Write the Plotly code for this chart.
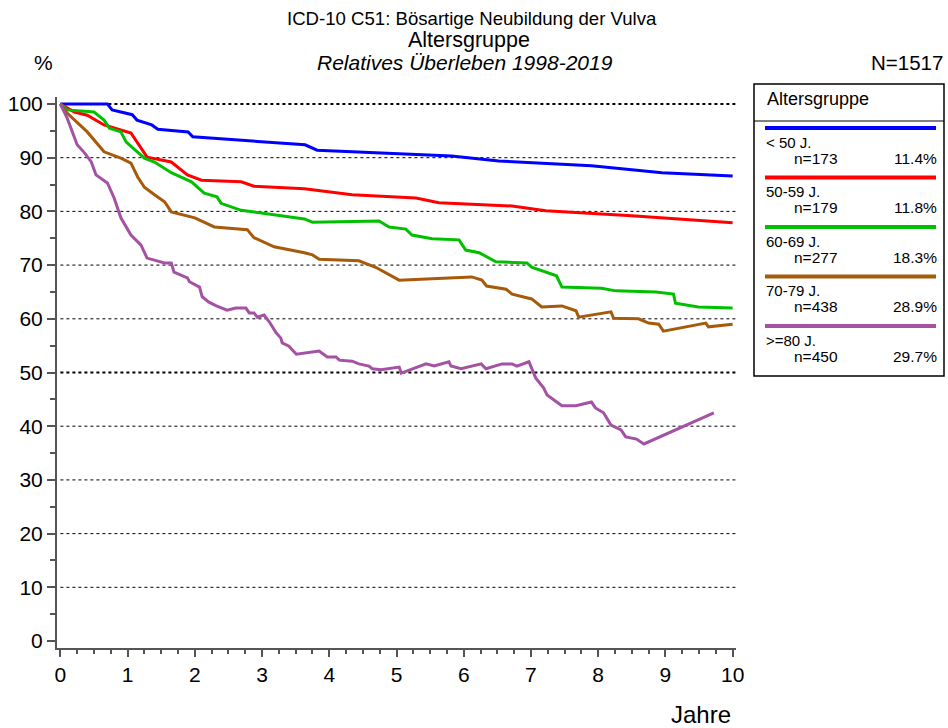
"""
Relative survival by age group, vulva cancer (ICD-10 C51).
"""
import plotly.graph_objects as go

# --- data -------------------------------------------------------------------
groups = ["< 50 J.", "50-59 J.", "60-69 J.", "70-79 J.", ">=80 J."]
group_n = ["n=173", "n=179", "n=277", "n=438", "n=450"]
group_pct = ["11.4%", "11.8%", "18.3%", "28.9%", "29.7%"]
colors = ["#0000FF", "#FF0000", "#00C000", "#A65A0A", "#A452A4"]

years_lt50 = [0, 0.70, 0.77, 1.07, 1.14, 1.36, 1.45, 1.90, 1.97, 3.64, 3.82,
              5.82, 6.52, 7.90, 8.95, 10.0]
surv_lt50 = [100, 100, 98.9, 98.0, 97.0, 96.1, 95.3, 94.8, 93.9, 92.4, 91.4,
             90.3, 89.4, 88.5, 87.2, 86.6]

years_50_59 = [0, 0.21, 0.40, 0.65, 1.05, 1.29, 1.65, 1.89, 2.10, 2.69, 2.88,
               3.63, 4.34, 5.29, 5.63, 6.72, 7.22, 8.50, 10.0]
surv_50_59 = [100, 98.5, 97.9, 96.1, 94.6, 90.1, 89.2, 86.8, 85.8, 85.5, 84.7,
              84.2, 83.1, 82.5, 81.6, 81.0, 80.1, 79.2, 77.9]

years_60_69 = [0, 0.10, 0.50, 0.65, 0.73, 0.90, 0.98, 1.15, 1.25, 1.40, 1.65,
               1.95, 2.14, 2.33, 2.39, 2.69, 2.99, 3.63, 3.75, 4.74, 4.89,
               5.14, 5.23, 5.53, 5.93, 6.03, 6.23, 6.48, 6.94, 7.01, 7.38,
               7.46, 8.05, 8.26, 8.86, 9.12, 9.15, 9.49, 10.0]
surv_60_69 = [100, 98.9, 98.5, 97.0, 95.5, 94.8, 92.9, 91.1, 89.9, 89.2, 87.2,
              85.5, 83.4, 82.7, 81.5, 80.2, 79.7, 78.6, 78.0, 78.2, 77.1,
              76.7, 75.6, 74.9, 74.7, 72.8, 72.3, 70.6, 70.4, 69.6, 68.0,
              65.9, 65.7, 65.2, 65.0, 64.6, 62.9, 62.2, 62.0]

years_70_79 = [0, 0.10, 0.40, 0.65, 0.90, 1.05, 1.15, 1.25, 1.40, 1.55, 1.65,
               2.00, 2.29, 2.78, 2.88, 3.18, 3.63, 3.75, 3.85, 4.44, 4.69,
               4.89, 5.04, 5.78, 6.12, 6.27, 6.34, 6.63, 6.72, 7.01, 7.16,
               7.46, 7.67, 7.71, 8.19, 8.23, 8.60, 8.75, 8.90, 8.97, 9.60,
               9.64, 10.0]
surv_70_79 = [100, 98.3, 94.8, 91.1, 89.9, 89.0, 86.4, 84.5, 83.1, 81.8, 79.9,
              78.8, 77.1, 76.6, 75.1, 73.4, 72.3, 71.9, 71.1, 70.8, 69.6,
              68.2, 67.2, 67.6, 67.8, 67.2, 66.1, 65.5, 64.6, 63.7, 62.2,
              62.4, 61.5, 60.3, 61.3, 60.1, 60.0, 59.2, 59.0, 57.7, 59.2,
              58.5, 59.0]

years_ge80 = [0, 0.10, 0.25, 0.36, 0.46, 0.53, 0.70, 0.80, 0.90, 1.05, 1.20,
              1.29, 1.55, 1.65, 1.69, 1.89, 1.92, 2.07, 2.11, 2.21, 2.32, 2.48,
              2.61, 2.76, 2.81, 2.88, 2.93, 3.03, 3.11, 3.21, 3.28, 3.30, 3.40,
              3.51, 3.85, 3.97, 4.10, 4.15, 4.34, 4.44, 4.59, 4.64, 4.77, 5.04,
              5.07, 5.44, 5.56, 5.78, 5.81, 5.96, 6.26, 6.33, 6.57, 6.72, 6.79,
              6.97, 7.07, 7.12, 7.19, 7.24, 7.46, 7.67, 7.90, 7.96, 8.08, 8.19,
              8.34, 8.41, 8.57, 8.68, 9.72]
surv_ge80 = [100, 97.4, 92.4, 90.9, 89.2, 86.8, 85.3, 82.5, 78.8, 75.6, 73.7,
             71.3, 70.4, 70.4, 68.7, 67.6, 66.9, 65.9, 64.1, 63.1, 62.4, 61.6,
             62.0, 62.0, 61.1, 61.1, 60.3, 60.7, 59.4, 57.4, 56.4, 55.5, 54.9,
             53.4, 54.0, 52.9, 52.9, 52.3, 52.1, 51.6, 51.2, 50.7, 50.5, 51.0,
             49.9, 51.6, 51.2, 52.0, 51.2, 50.7, 51.6, 50.7, 51.6, 51.6, 51.2,
             52.0, 49.0, 48.2, 47.1, 45.8, 43.8, 43.8, 44.5, 43.4, 42.5, 40.2,
             39.3, 38.0, 37.6, 36.7, 42.5]

x_ticks = list(range(0, 11))
y_ticks = list(range(0, 101, 10))
grid_y = list(range(10, 101, 10))
bold_grid_y = [50, 100]

series_x = [years_lt50, years_50_59, years_60_69, years_70_79, years_ge80]
series_y = [surv_lt50, surv_50_59, surv_60_69, surv_70_79, surv_ge80]

# --- layout geometry (screen pixels) ------------------------------------------
FIG_W, FIG_H = 948, 728
M_L, M_R, M_T, M_B = 57, 212, 97, 80
PLOT_W = FIG_W - M_L - M_R
PLOT_H = FIG_H - M_T - M_B
FONT = "Liberation Sans, Arial, sans-serif"
AXIS_COLOR = "#555555"


def px_x(px):
    return (px - M_L) / PLOT_W


def px_y(py):
    return (FIG_H - M_B - py) / PLOT_H


fig = go.Figure()

for xs, ys, name, col in zip(series_x, series_y, groups, colors):
    fig.add_trace(go.Scatter(x=xs, y=ys, mode="lines", name=name,
                             line=dict(color=col, width=3), showlegend=False))

# dotted reference lines
for g in grid_y:
    w = 2 if g in bold_grid_y else 1
    fig.add_shape(type="line", xref="x domain", yref="y", x0=0.005, x1=1,
                  y0=g, y1=g, line=dict(color="black", width=w, dash="dot"),
                  layer="below")

# titles / labels
annots = [
    ("ICD-10 C51: Bösartige Neubildung der Vulva", 472, 18, 18.6, "center"),
    ("Altersgruppe", 469, 40, 21.5, "center"),
    ("<i>Relatives Überleben 1998-2019</i>", 465, 62, 21, "center"),
    ("%", 43, 63, 21, "center"),
    ("N=1517", 945, 63, 20.5, "right"),
    ("Jahre", 733, 714, 24, "right"),
]
for text, x, y, size, anchor in annots:
    fig.add_annotation(text=text, x=px_x(x), y=px_y(y), xref="paper",
                       yref="paper", xanchor=anchor, yanchor="middle",
                       showarrow=False, font=dict(size=size, color="black",
                                                  family=FONT))

# custom legend box
BOX_L, BOX_R, BOX_T, BOX_B = 754, 944, 84, 376
fig.add_shape(type="rect", xref="paper", yref="paper", x0=px_x(BOX_L),
              x1=px_x(BOX_R), y0=px_y(BOX_B), y1=px_y(BOX_T),
              line=dict(color="black", width=1.5), fillcolor="white")
fig.add_shape(type="line", xref="paper", yref="paper", x0=px_x(BOX_L),
              x1=px_x(BOX_R), y0=px_y(121), y1=px_y(121),
              line=dict(color="black", width=1))
fig.add_annotation(text="Altersgruppe", x=px_x(765), y=px_y(99),
                   xref="paper", yref="paper", xanchor="left",
                   yanchor="middle", showarrow=False,
                   font=dict(size=18, color="black", family=FONT))
for i, (name, n, pct, col) in enumerate(zip(groups, group_n, group_pct, colors)):
    y0 = 128 + 49.5 * i
    fig.add_shape(type="line", xref="paper", yref="paper", x0=px_x(765),
                  x1=px_x(936), y0=px_y(y0), y1=px_y(y0),
                  line=dict(color=col, width=4))
    fig.add_annotation(text=name, x=px_x(765), y=px_y(y0 + 14), xref="paper",
                       yref="paper", xanchor="left", yanchor="middle",
                       showarrow=False, borderpad=0,
                       font=dict(size=15, color="black", family=FONT))
    fig.add_annotation(text=n, x=px_x(793), y=px_y(y0 + 30), xref="paper",
                       yref="paper", xanchor="left", yanchor="middle",
                       showarrow=False, borderpad=0,
                       font=dict(size=15.5, color="black", family=FONT))
    fig.add_annotation(text=pct, x=px_x(938), y=px_y(y0 + 30), xref="paper",
                       yref="paper", xanchor="right", yanchor="middle",
                       showarrow=False, borderpad=0,
                       font=dict(size=15.5, color="black", family=FONT))

fig.update_xaxes(
    range=[-0.05, 10.05], tickvals=x_ticks, showgrid=False, zeroline=False,
    automargin=False,
    showline=True, linecolor=AXIS_COLOR, linewidth=2,
    ticks="outside", ticklen=7, tickwidth=2, tickcolor=AXIS_COLOR,
    minor=dict(dtick=0.25, ticks="outside", ticklen=4, tickwidth=1.5,
               tickcolor=AXIS_COLOR, showgrid=False),
    tickfont=dict(size=21, color="black", family=FONT),
)
fig.update_yaxes(
    range=[-1.3, 101.3], tickvals=y_ticks, showgrid=False, zeroline=False,
    automargin=False,
    showline=True, linecolor=AXIS_COLOR, linewidth=2,
    ticks="outside", ticklen=8, tickwidth=2, tickcolor=AXIS_COLOR,
    minor=dict(dtick=5, ticks="outside", ticklen=5, tickwidth=1.5,
               tickcolor=AXIS_COLOR, showgrid=False),
    tickfont=dict(size=21, color="black", family=FONT),
)
fig.update_layout(
    width=FIG_W, height=FIG_H,
    margin=dict(l=M_L, r=M_R, t=M_T, b=M_B),
    plot_bgcolor="white", paper_bgcolor="white",
    font=dict(family=FONT, color="black"),
    showlegend=False,
)

# drop the default page margin so the figure sits at the window's corner
fig.write_html(
    "out.html",
    config={"displayModeBar": False},
    post_script="document.body.style.margin='0';"
                "document.body.style.overflow='hidden';",
)
